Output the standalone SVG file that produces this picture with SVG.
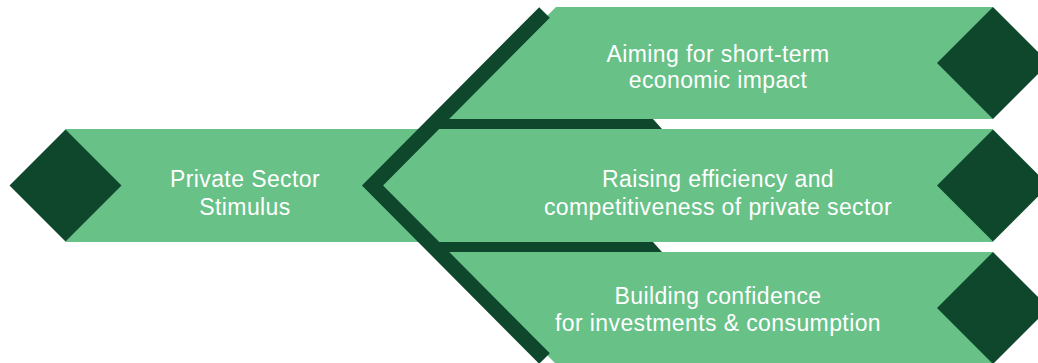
<svg xmlns="http://www.w3.org/2000/svg" width="1038" height="363" viewBox="0 0 1038 363">
  <style>
    .light { fill: #68c187; }
    .dark { fill: #0e472b; }
    .band { fill: none; stroke: #0e472b; stroke-width: 15; stroke-linejoin: miter; stroke-linecap: butt; stroke-miterlimit: 10; }
    .label { fill: #ffffff; font-family: "Liberation Sans", Arial, sans-serif; font-size: 23px; letter-spacing: 0.4px; text-anchor: middle; }
  </style>
  <rect x="0" y="0" width="1038" height="363" fill="#ffffff"/>

  <g id="node-private-sector-stimulus">
    <rect class="light" x="65.5" y="129" width="360" height="113"/>
    <polygon class="dark" points="65.5,129.5 121.5,185.5 65.5,241.5 9.5,185.5"/>
    <text class="label" x="245" y="187">Private Sector</text>
    <text class="label" x="245" y="215">Stimulus</text>
  </g>

  <g id="node-short-term-impact">
    <polygon class="light" points="556,7 993,7 993,119 444,119"/>
    <polygon class="dark" points="993,7 1049,63 993,119 937,63"/>
    <text class="label" x="718" y="61.5">Aiming for short-term</text>
    <text class="label" x="718" y="87.5">economic impact</text>
  </g>

  <g id="node-efficiency-competitiveness">
    <polygon class="light" points="437,129 993,129 993,242 437,242 380.5,185.5"/>
    <polygon class="dark" points="993,129.5 1049,185.5 993,241.5 937,185.5"/>
    <text class="label" x="718" y="187">Raising efficiency and</text>
    <text class="label" x="718" y="215">competitiveness of private sector</text>
  </g>

  <g id="node-confidence">
    <polygon class="light" points="444,252 993,252 993,364 556,364"/>
    <polygon class="dark" points="993,252 1049,308 993,364 937,308"/>
    <text class="label" x="718" y="303.5">Building confidence</text>
    <text class="label" x="718" y="330.5">for investments &amp; consumption</text>
  </g>

  <g id="connectors">
    <polyline class="band" points="544.5,12.5 372.5,185.5 544.5,358.5"/>
    <polygon class="dark" points="436,119 653,119 662,129 436,129"/>
    <polygon class="dark" points="436,242 653,242 662,252 436,252"/>
  </g>
</svg>
